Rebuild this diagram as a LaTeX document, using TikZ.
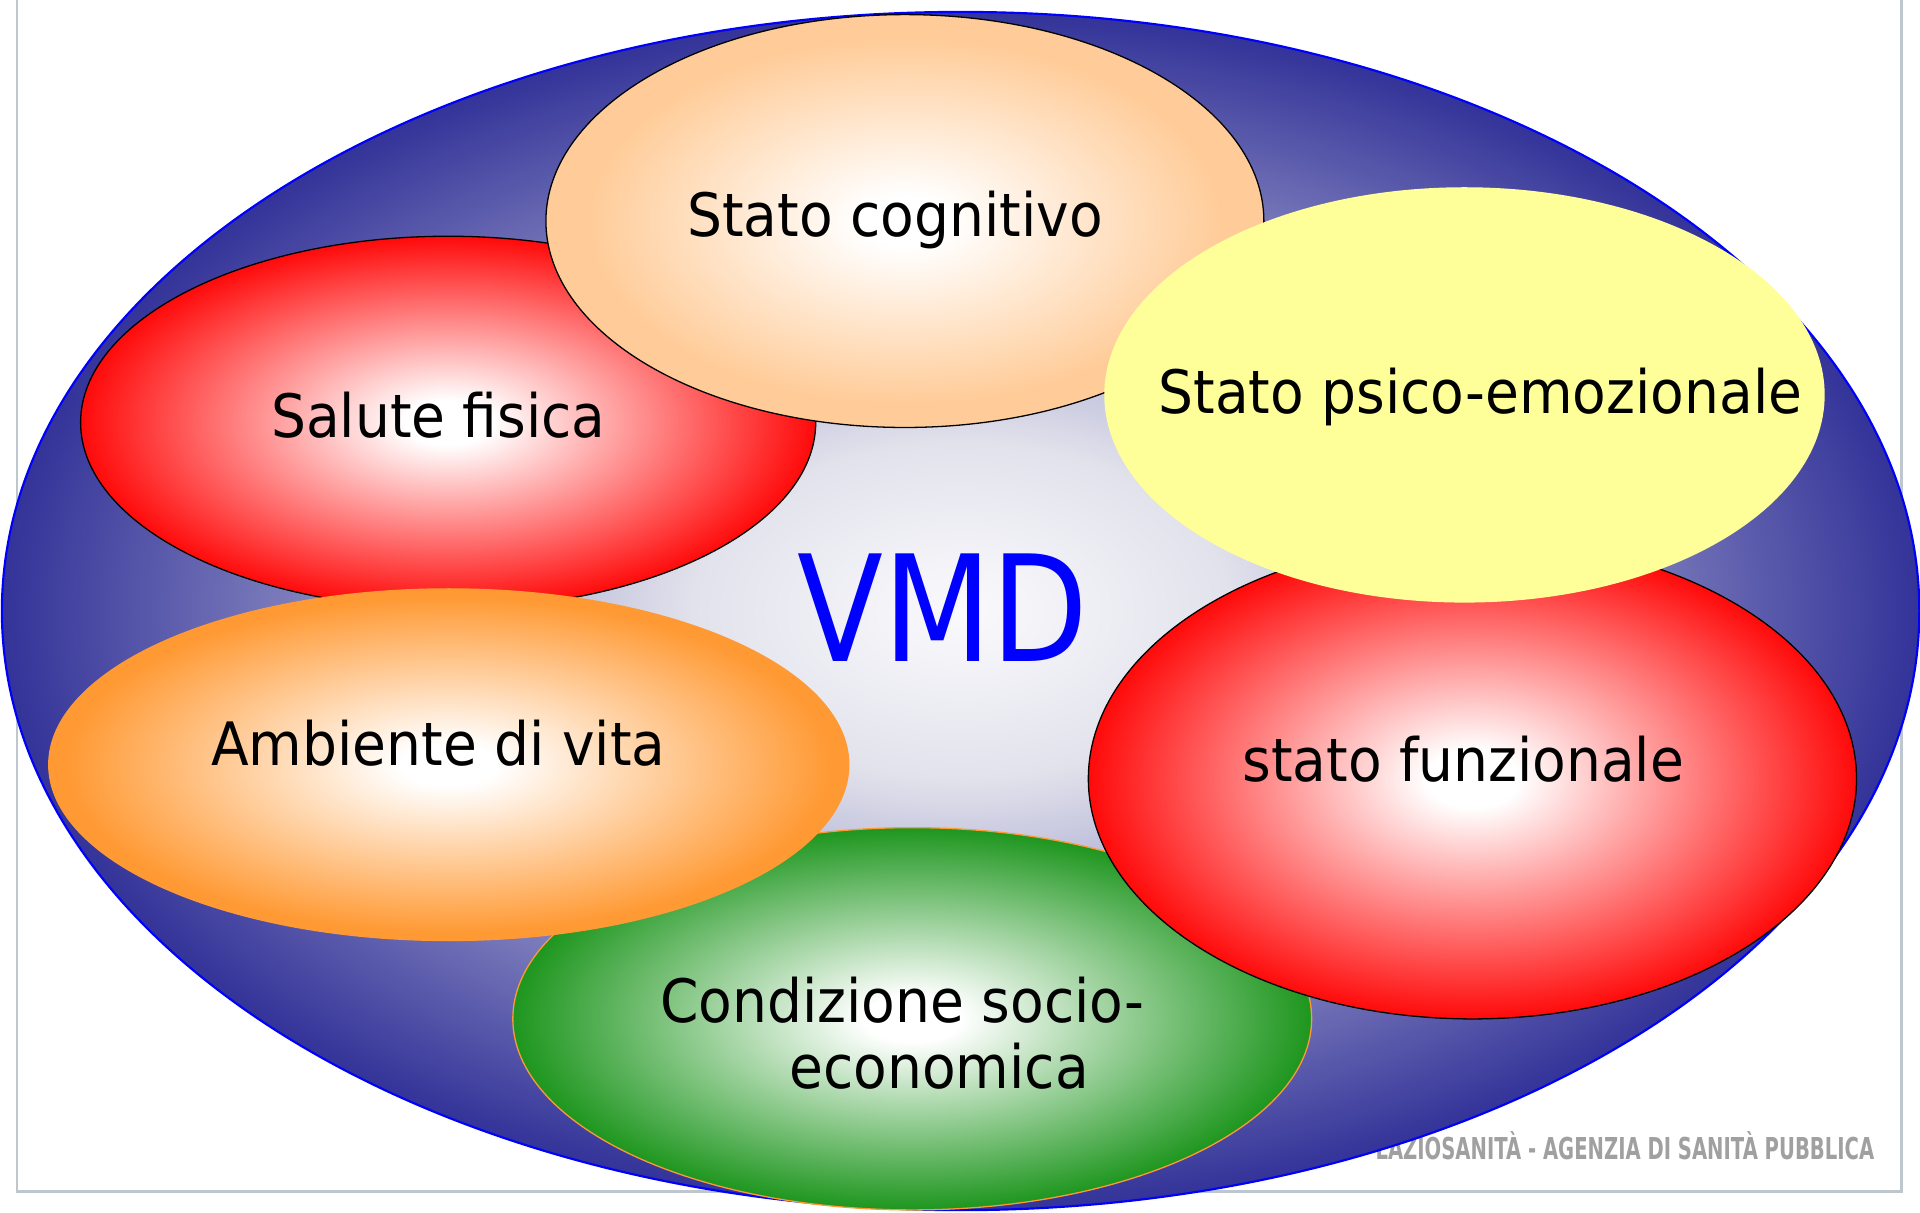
\documentclass[tikz,border=0pt]{standalone}
\usepackage{fontspec}
\setmainfont{DejaVu Sans}[FakeStretch=0.92]
\newfontfamily\vmdfont{DejaVu Sans}[FakeStretch=0.85]
\newfontfamily\wmfont{DejaVu Sans}[FakeStretch=0.65]
\usetikzlibrary{shapes.geometric}
\definecolor{oc1}{RGB}{250,250,253}
\definecolor{oc2}{RGB}{226,226,236}
\definecolor{oc3}{RGB}{51,51,153}
\definecolor{redE}{RGB}{255,10,10}
\definecolor{peachE}{RGB}{255,204,153}
\definecolor{orangeE}{RGB}{255,153,51}
\definecolor{greenE}{RGB}{30,150,30}
\definecolor{yellowE}{RGB}{255,255,153}
\definecolor{vmdblue}{RGB}{0,0,255}
\definecolor{framegray}{RGB}{190,198,206}
\definecolor{wmgray}{RGB}{160,160,160}
\pgfdeclareradialshading{outershade}{\pgfpoint{0bp}{0bp}}{color(0bp)=(oc1); color(7bp)=(oc2); color(25bp)=(oc3); color(50bp)=(oc3)}
\pgfdeclareradialshading{redshade}{\pgfpoint{0bp}{0bp}}{color(0bp)=(white); color(3bp)=(white); color(25bp)=(redE); color(50bp)=(redE)}
\pgfdeclareradialshading{peachshade}{\pgfpoint{0bp}{0bp}}{color(0bp)=(white); color(3bp)=(white); color(22bp)=(peachE); color(50bp)=(peachE)}
\pgfdeclareradialshading{orangeshade}{\pgfpoint{0bp}{0bp}}{color(0bp)=(white); color(3bp)=(white); color(24bp)=(orangeE); color(50bp)=(orangeE)}
\pgfdeclareradialshading{greenshade}{\pgfpoint{0bp}{0bp}}{color(0bp)=(white); color(3bp)=(white); color(25bp)=(greenE); color(50bp)=(greenE)}
\tikzset{
  blob/.style={ellipse, inner sep=0pt, outer sep=0pt, line width=0.3pt},
  lbl/.style={anchor=base, inner sep=0pt, text=black, font=\fontsize{13.9}{16}\selectfont},
  vmdlbl/.style={anchor=base, inner sep=0pt, text=vmdblue, font=\vmdfont\fontsize{34.3}{40}\selectfont},
  wmlbl/.style={anchor=base, inner sep=0pt, text=wmgray, font=\wmfont\bfseries\fontsize{7}{8}\selectfont},
  frameline/.style={draw=framegray, line width=0.6pt}
}
\begin{document}
\begin{tikzpicture}[x=0.01cm, y=-0.01cm]
\useasboundingbox (0,0) rectangle (1568,990);
\fill[white] (0,0) rectangle (1568,990);
% slide frame
\draw[frameline] (14,0) -- (14,973) -- (1553,973) -- (1553,0);
% watermark
\node[wmlbl] (wm) at (1327,947) {LAZIOSANITÀ - AGENZIA DI SANITÀ PUBBLICA};
% outer ellipse
\node[blob, shading=outershade, draw=vmdblue, line width=0.5pt, minimum width=15.65cm, minimum height=9.78cm] (outer) at (784.5,499) {};
% inner ellipses
\node[blob, shading=redshade, draw=black, minimum width=6cm, minimum height=3.04cm] (salute) at (366,345) {};
\node[blob, shading=peachshade, draw=black, minimum width=5.86cm, minimum height=3.37cm] (cogn) at (739,180.5) {};
\node[blob, shading=greenshade, draw=orangeE, minimum width=6.52cm, minimum height=3.12cm] (cond) at (745,832) {};
\node[blob, shading=orangeshade, draw=orangeE, minimum width=6.53cm, minimum height=2.87cm] (amb) at (366.5,624.5) {};
\node[blob, shading=redshade, draw=black, minimum width=6.27cm, minimum height=3.92cm] (funz) at (1202.5,636) {};
\node[blob, fill=yellowE, draw=none, minimum width=5.88cm, minimum height=3.39cm] (psico) at (1196,322.5) {};
% labels
\node[lbl] (tcogn) at (731,193) {Stato cognitivo};
\node[lbl] (tsal) at (358,357) {Salute fisica};
\node[lbl] (tpsi) at (1209,338) {Stato psico-emozionale};
\node[lbl] (tfun) at (1195,638) {stato funzionale};
\node[lbl] (tamb) at (358,625) {Ambiente di vita};
\node[lbl] (tcondA) at (737,835) {Condizione socio-};
\node[lbl] (tcondB) at (767,889) {economica};
\node[vmdlbl] (vmd) at (770,540) {VMD};
\end{tikzpicture}
\end{document}
